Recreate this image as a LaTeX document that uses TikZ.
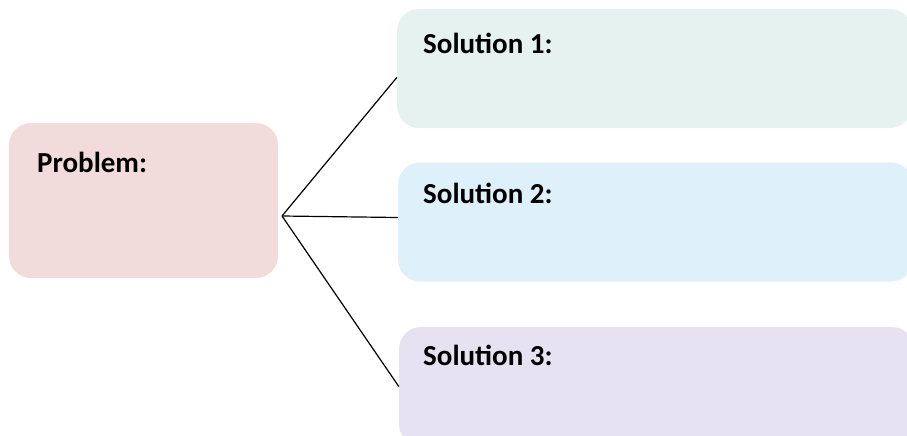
\documentclass[tikz,border=0pt]{standalone}
\usepackage{fontspec}
\setmainfont{Carlito}
\usepackage{tikz}

\definecolor{probfill}{HTML}{F2DCDB}
\definecolor{solA}{HTML}{E6F2F0}
\definecolor{solB}{HTML}{DEF0FA}
\definecolor{solC}{HTML}{E6E2F1}

\begin{document}
\begin{tikzpicture}[x=1pt,y=-1pt,
  box/.style={rounded corners=22pt, inner sep=0pt, minimum width=#1},
  title/.style={anchor=base west, inner sep=0pt, font=\fontsize{29}{34}\selectfont\bfseries},
  link/.style={line width=1.2pt}]
  \useasboundingbox (0,0) rectangle (907,436);
  \clip (0,0) rectangle (907,436);
  \node[box=269pt, fill=probfill, minimum height=155pt] (prob) at (143.5,200.5) {};
  \node[title] (probtext) at (37,172) {Problem:};
  \coordinate (hub) at (282,216);
  \foreach \i/\x/\y/\c/\t/\a in {1/654.5/68.5/solA/53/182, 2/655.5/222/solB/203/179.3, 3/656.5/386.5/solC/365/180}{
  \node[box=515pt, fill=\c, minimum height=119pt] (sol\i) at (\x,\y) {};
  \node[title] (soltext\i) at (423,\t) {Solution \i:};
  \draw[link] (hub) -- (sol\i.\a);
  }
\end{tikzpicture}
\end{document}
